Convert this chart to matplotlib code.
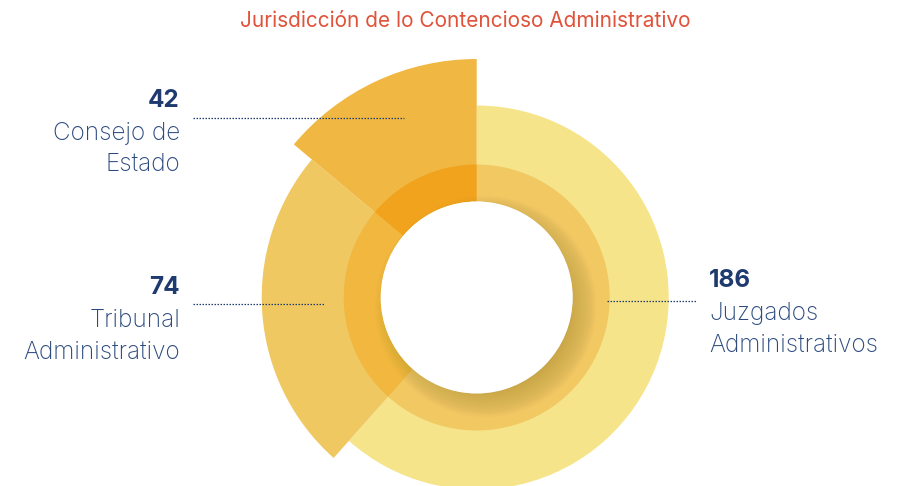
#!/usr/bin/env python3
"""Donut chart with variable slice radius: Jurisdicción de lo Contencioso Administrativo."""

import numpy as np
import matplotlib.pyplot as plt
from matplotlib.patches import Circle

# data
categories = ["Juzgados\nAdministrativos", "Tribunal\nAdministrativo", "Consejo de\nEstado"]
values = [186, 74, 42]
title = "Jurisdicción de lo Contencioso Administrativo"

# styles (pixels, figure is 903x486 at dpi 100)
W, H = 903, 486
CX, CY = 476.7, 297.5          # centre of the donut in pixel coords (y from top)
R_MAX = 240.0
R_HOLE = 96.0
R_RING = 133.0
outer_radius = [192, 215, 238.5]
outer_colors = ["#F6E48A", "#F0C862", "#F0B842"]
ring_colors = ["#F1C862", "#F1B73F", "#F2A31E"]
navy = "#1E3A6E"
text_navy = "#2C4A7E"

plt.rcParams["font.family"] = ["Inter", "DejaVu Sans"]

fig = plt.figure(figsize=(W / 100, H / 100), dpi=100)

# polar axes placed so that 1 radial unit == 1 pixel
ax = fig.add_axes([(CX - R_MAX) / W, (H - CY - R_MAX) / H, 2 * R_MAX / W, 2 * R_MAX / H],
                  projection="polar")
ax.set_theta_zero_location("N")
ax.set_theta_direction(-1)
ax.set_ylim(0, R_MAX)
ax.axis("off")

total = sum(values)
widths = [2 * np.pi * v / total for v in values]
starts = np.concatenate([[0], np.cumsum(widths)[:-1]])

ax.bar(starts, [r - R_HOLE for r in outer_radius], width=widths, bottom=R_HOLE,
       align="edge", color=outer_colors, linewidth=0)
ax.bar(starts, [R_RING - R_HOLE] * len(values), width=widths, bottom=R_HOLE,
       align="edge", color=ring_colors, linewidth=0)

# overlay in pixel coordinates for shadow, hole, leaders and labels
ov = fig.add_axes([0, 0, 1, 1])
ov.set_xlim(0, W)
ov.set_ylim(H, 0)
ov.axis("off")

# soft drop shadow of the hole towards the bottom right
for i in range(30):
    ov.add_patch(Circle((CX + 9, CY + 9), R_HOLE - 14 + i, color="#5a3c00",
                        alpha=0.009, linewidth=0))
ov.add_patch(Circle((CX, CY), R_HOLE, color="white", linewidth=0))

ov.text(465, 27, title, ha="center", va="baseline", fontsize=15,
        color="#E0533A")

dot = dict(color=navy, linewidth=0.9, linestyle=(0, (1.2, 1.2)))
ov.plot([193, 404], [118.3, 118.3], **dot)
ov.plot([193, 324], [304.3, 304.3], **dot)
ov.plot([607, 696], [300.7, 300.7], **dot)

label_pos = [(709, 287.3, "left"), (180, 294.3, "right"), (180, 106.7, "right")]
for (x, y, ha), val, cat in zip(label_pos, values, categories):
    ov.text(x, y, str(val), ha=ha, va="baseline", fontsize=17.5, fontweight="bold",
            color=navy)
    for j, line in enumerate(cat.split("\n")):
        ov.text(x, y + 33 + j * 31, line, ha=ha, va="baseline", fontsize=17.5,
                fontweight="light", color=text_navy)

fig.savefig("out.png", dpi=100)
